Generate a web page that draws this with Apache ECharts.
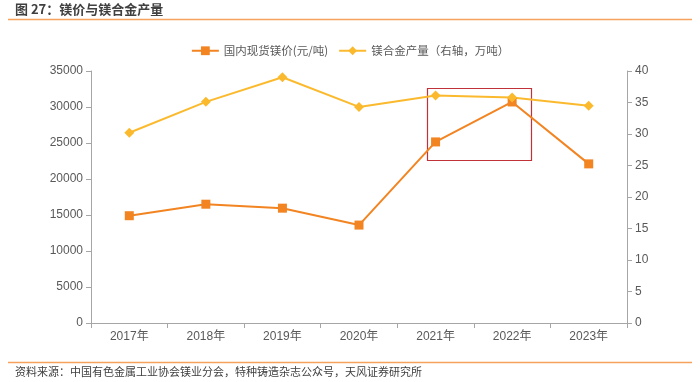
<!DOCTYPE html>
<html><head><meta charset="utf-8">
<script src="https://cdn.jsdelivr.net/npm/echarts@6/dist/echarts.min.js"></script>
<style>html,body{margin:0;padding:0;background:#fff}#c{width:700px;height:382px}</style>
</head><body><div id="c"></div>
<script>
const categories = ['2017年','2018年','2019年','2020年','2021年','2022年','2023年'];
const priceValues = [14900, 16500, 15950, 13600, 25150, 30700, 22100];
const outputValues = [30.2, 35.1, 39.0, 34.3, 36.1, 35.8, 34.5];
const leftTicks = {min: 0, max: 35000, interval: 5000};
const rightTicks = {min: 0, max: 40, interval: 5};

const chart = echarts.init(document.getElementById('c'));
const font = '"Liberation Sans", "Noto Sans CJK SC", sans-serif';
const cjk = '"Noto Sans CJK SC", sans-serif';
chart.setOption({
  animation: false,
  textStyle: {fontFamily: font},
  grid: {left: 91, right: 73, top: 71, bottom: 59},
  legend: {
    top: 40, left: 'center', itemWidth: 27, itemHeight: 11, itemGap: 10,
    textStyle: {color: '#595959', fontSize: 11.5, fontFamily: cjk},
    data: ['国内现货镁价(元/吨)', '镁合金产量（右轴，万吨）']
  },
  graphic: [
    {type: 'text', left: 15, top: 3, style: {text: '图 27：镁价与镁合金产量', font: 'bold 13px ' + cjk, fill: '#404040'}},
    {type: 'line', shape: {x1: 8, y1: 19.5, x2: 692, y2: 19.5}, style: {stroke: '#F6A25E', lineWidth: 1.5}},
    {type: 'line', shape: {x1: 8, y1: 362.5, x2: 692, y2: 362.5}, style: {stroke: '#F6A25E', lineWidth: 1.5}},
    {type: 'text', left: 15, top: 366, style: {text: '资料来源：中国有色金属工业协会镁业分会，特种铸造杂志公众号，天风证券研究所', font: '11px ' + cjk, fill: '#404040'}},
    {type: 'rect', shape: {x: 427.5, y: 88.5, width: 104, height: 72}, style: {fill: 'none', stroke: '#C0323A', lineWidth: 1.2}}
  ],
  xAxis: {
    type: 'category', data: categories, boundaryGap: true,
    axisLine: {lineStyle: {color: '#A6A6A6'}},
    axisTick: {show: true, lineStyle: {color: '#A6A6A6'}},
    axisLabel: {color: '#595959', fontSize: 12, margin: 8}
  },
  yAxis: [
    {type: 'value', min: leftTicks.min, max: leftTicks.max, interval: leftTicks.interval, position: 'left',
     axisLine: {show: true, lineStyle: {color: '#A6A6A6'}},
     axisTick: {show: true, lineStyle: {color: '#A6A6A6'}},
     axisLabel: {color: '#595959', fontSize: 12, formatter: v => String(v)},
     splitLine: {show: false}},
    {type: 'value', min: rightTicks.min, max: rightTicks.max, interval: rightTicks.interval, position: 'right',
     axisLine: {show: true, lineStyle: {color: '#A6A6A6'}},
     axisTick: {show: true, lineStyle: {color: '#A6A6A6'}},
     axisLabel: {color: '#595959', fontSize: 12, formatter: v => String(v)},
     splitLine: {show: false}}
  ],
  series: [
    {name: '国内现货镁价(元/吨)', type: 'line', yAxisIndex: 0, data: priceValues,
     symbol: 'rect', symbolSize: 9, lineStyle: {color: '#F28421', width: 2},
     itemStyle: {color: '#F28421'}},
    {name: '镁合金产量（右轴，万吨）', type: 'line', yAxisIndex: 1, data: outputValues,
     symbol: 'diamond', symbolSize: 10, lineStyle: {color: '#FBBA2E', width: 2},
     itemStyle: {color: '#FBBA2E'}}
  ]
});
</script></body></html>
